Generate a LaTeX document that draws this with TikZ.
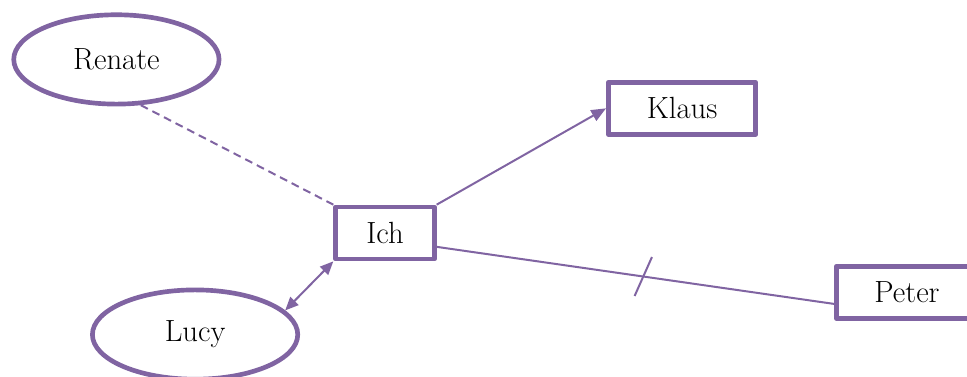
\documentclass[tikz,border=0pt]{standalone}
\usepackage{xcolor}
\usepackage{tikz}
\usetikzlibrary{shapes.geometric, arrows.meta, positioning, calc}

\definecolor{lila}{HTML}{8064A2}

\begin{document}
\begin{tikzpicture}[
    box/.style={rectangle, draw=lila, line width=3.5pt, line join=round, minimum width=74pt, minimum height=39pt, inner sep=0pt, align=center, font=\fontsize{23}{27}\selectfont},
    oval/.style={ellipse, draw=lila, line width=3.5pt, minimum width=154pt, minimum height=67pt, inner sep=0pt, align=center, font=\fontsize{23}{27}\selectfont},
    link/.style={draw=lila, line width=1.5pt},
    arrow/.style={link, -{Triangle[length=11pt, width=9pt]}},
    twoway/.style={link, {Triangle[length=10pt, width=8.5pt]}-{Triangle[length=10pt, width=8.5pt]}},
]
\useasboundingbox (-288.75pt,-107.25pt) rectangle (436.5pt,174.75pt);

% Nodes
\node[box] (ich) {Ich};
\node[box, minimum width=110.6pt, above right=51pt and 127pt of ich] (klaus) {Klaus};
\node[box, minimum width=106pt, below right=2pt and 298pt of ich] (peter) {Peter};
\node[oval, above left=84pt and 107pt of ich] (renate) {Renate};
\node[oval, below left=30pt and 48pt of ich] (lucy) {Lucy};

% Connectors
\draw[link, dash pattern=on 6pt off 3.8pt] (renate.-62) -- (ich.north west);
\draw[arrow] (ich.north east) -- (klaus.west);
\draw[twoway] (ich.south west) -- (lucy.15);
\draw[link] (ich.-15) -- coordinate[pos=.52] (cut) (peter.189);

% Cut mark
\draw[link] (cut) ++(66:16pt) -- ++(246:32pt);

\end{tikzpicture}
\end{document}
